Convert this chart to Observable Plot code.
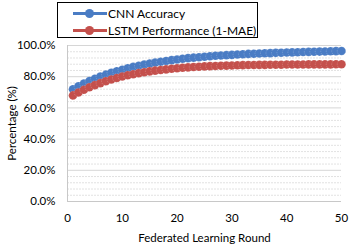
<!DOCTYPE html>
<html><head><meta charset="utf-8">
<script src="https://cdn.jsdelivr.net/npm/d3@7"></script>
<script src="https://cdn.jsdelivr.net/npm/@observablehq/plot@0.6"></script>
<style>
body{margin:0;background:#fff;}
#wrap{position:relative;width:350px;height:245px;font-family:Lato,"Open Sans",sans-serif;}
#legend{position:absolute;left:57px;top:2px;width:199px;height:34px;border:1px solid #000;background:#fff;font-size:12px;color:#000;white-space:nowrap;}
.item{position:absolute;left:15px;height:16px;display:flex;align-items:center;white-space:nowrap;}
.sw{position:relative;width:34px;height:16px;margin-right:1px;flex:none;}
.sw .ln{position:absolute;left:0;right:0;top:6.5px;height:3px;}
.sw .mk{position:absolute;left:12px;top:3.5px;width:9px;height:9px;border-radius:50%;}
</style></head>
<body><div id="wrap"><div id="legend"></div></div>
<script>
const rounds = d3.range(1, 51);
const cnnAccuracy = [72.0,73.9,75.6,77.2,78.7,80.1,81.3,82.5,83.5,84.5,85.4,86.3,87.0,87.8,88.4,89.0,89.6,90.1,90.6,91.0,91.5,91.9,92.2,92.5,92.8,93.1,93.4,93.6,93.8,94.0,94.2,94.4,94.6,94.7,94.9,95.0,95.1,95.3,95.4,95.5,95.6,95.7,95.8,95.9,96.0,96.1,96.2,96.3,96.4,96.5];
const lstmPerformance = [68.0,69.9,71.6,73.2,74.6,75.9,77.1,78.2,79.2,80.1,80.9,81.6,82.3,82.9,83.4,83.9,84.3,84.7,85.1,85.4,85.7,86.0,86.2,86.4,86.6,86.8,86.9,87.0,87.1,87.2,87.3,87.4,87.5,87.5,87.6,87.6,87.7,87.7,87.7,87.8,87.8,87.8,87.8,87.9,87.9,87.9,87.9,87.9,88.0,88.0];
const seriesNames = ["CNN Accuracy", "LSTM Performance (1-MAE)"];
const seriesColors = ["#4a7cc4", "#c4504c"];
const xTicks = [0,10,20,30,40,50];
const yTicks = [0,20,40,60,80,100];
const yMinorTicks = d3.range(0, 101, 4).filter(v => v % 20 !== 0);

const data = [];
rounds.forEach((r,i) => {
  data.push({round:r, value:cnnAccuracy[i], series:seriesNames[0]});
  data.push({round:r, value:lstmPerformance[i], series:seriesNames[1]});
});

const chart = Plot.plot({
  width: 350, height: 245,
  marginLeft: 67, marginRight: 9, marginTop: 45, marginBottom: 44,
  style: {fontFamily: "Lato, 'Open Sans', sans-serif", fontSize: "11.5px", color: "#000", background: "#fff"},
  x: {domain: [0, 50]},
  y: {domain: [0, 100]},
  color: {domain: seriesNames, range: seriesColors},
  marks: [
    Plot.ruleY(yMinorTicks, {stroke: "#e2e2e2", strokeDasharray: "2,1"}),
    Plot.ruleY(yTicks.filter(v => v > 0), {stroke: "#d6d6d6"}),
    Plot.ruleY([0], {stroke: "#c8c8c8"}),
    Plot.ruleX([0], {stroke: "#c8c8c8"}),
    Plot.axisY({ticks: yTicks, tickSize: 0, tickPadding: 12, tickFormat: d => d.toFixed(1) + "%", label: "Percentage (%)", labelAnchor: "center", labelArrow: false, labelOffset: 60, fontSize: 11.5}),
    Plot.axisX({ticks: xTicks, tickSize: 0, tickPadding: 12, label: "Federated Learning Round", labelAnchor: "center", labelArrow: false, labelOffset: 40, fontSize: 11.5}),
    Plot.line(data, {x: "round", y: "value", z: "series", stroke: "series", strokeWidth: 2.5}),
    Plot.dot(data, {x: "round", y: "value", fill: "series", r: 4.3, stroke: "#ffffff", strokeOpacity: 0.35, strokeWidth: 0.6, strokeDasharray: "1.5,1"})
  ]
});
document.getElementById("wrap").appendChild(chart);

const legend = document.getElementById("legend");
seriesNames.forEach((name, i) => {
  const it = document.createElement("div");
  it.className = "item";
  it.style.top = (i === 0 ? 2 : 19) + "px";
  it.innerHTML = `<div class="sw"><div class="ln" style="background:${seriesColors[i]}"></div><div class="mk" style="background:${seriesColors[i]}"></div></div><span>${name}</span>`;
  legend.appendChild(it);
});
legend.remove();
document.getElementById("wrap").appendChild(legend);
</script>
</body></html>
